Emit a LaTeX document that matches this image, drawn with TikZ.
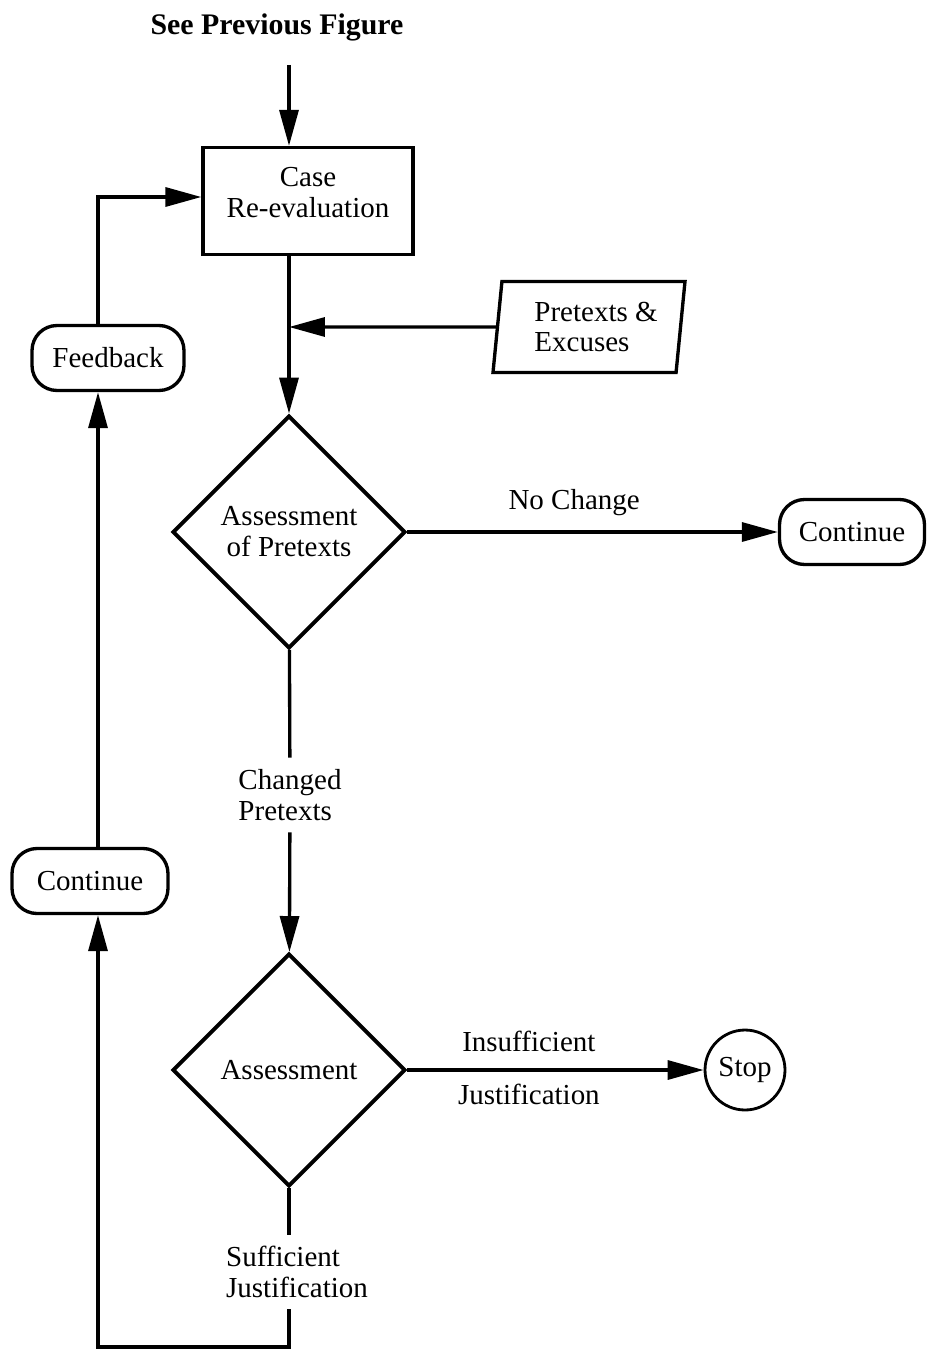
\documentclass[tikz,border=0pt]{standalone}
\usepackage{fontspec}
\setmainfont{Liberation Serif}
\usetikzlibrary{shapes.geometric,arrows.meta}
\begin{document}
\begin{tikzpicture}[x=0.02cm, y=-0.02cm, line width=1.9pt, font=\fontsize{16.5}{17.6}\selectfont,
 box/.style = {draw, rectangle, minimum width=4.2cm, minimum height=2.14cm, align=center},
 io/.style = {draw, trapezium, trapezium left angle=83, trapezium right angle=97, trapezium stretches=true, minimum width=3.88cm, minimum height=1.82cm, align=left},
 test/.style = {draw, diamond, aspect=1, minimum width=4.66cm, minimum height=4.66cm, inner sep=0pt, align=center, line width=2.2pt},
 term/.style = {draw, rounded corners=0.5cm, minimum height=1.3cm},
 stopc/.style = {draw, circle, minimum size=1.6cm, inner sep=0pt, line width=1.6pt},
 lbl/.style = {align=left, inner sep=0.2cm},
 arr/.style = {-{Triangle[length=0.72cm, width=0.38cm]}}]
\useasboundingbox (0,0) rectangle (944,1355);

\node[font=\bfseries\fontsize{17}{20}\selectfont] (prev) at (277,27) {See Previous Figure};
\node[box] (case) at (308,201) {Case\\Re-evaluation\\[-8pt]\mbox{}};
\node[io] (pretexts) at (589,327) {\hspace*{8pt}Pretexts \&\\\hspace*{8pt}Excuses};
\node[test] (assess) at (289,532) {Assessment\\of Pretexts};
\node[term, minimum width=2.9cm] (cont1) at (852,532) {Continue};
\node[lbl] (chg) at (290,795) {Changed\\Pretexts};
\node[test] (assess2) at (289,1070) {Assessment};
\node[stopc] (stop) at (745,1070) {Stop};
\node[lbl] (suf) at (297,1272) {Sufficient\\Justification};
\node[term, minimum width=3.12cm] (cont2) at (90,881) {Continue};
\node[term, minimum width=3.04cm] (fb) at (108,358) {Feedback};

\coordinate (in) at (289,65);
\coordinate (join) at (289,327);
\coordinate (tl) at (98,197);
\coordinate (bl) at (98,1347);

\draw[arr] (in) -- (in |- case.north);
\draw[arr] (case.south -| join) -- (assess);
\draw[arr] (pretexts.west) -- (join);
\draw[arr] (assess) -- node[above=5pt, pos=0.45] {No Change} (cont1);
\draw (assess) -- (chg);
\draw[arr] (chg) -- (assess2);
\draw[arr] (assess2) -- node[above=6pt, pos=0.41] {Insufficient} node[below=4pt, pos=0.41] {Justification} (stop);
\draw (assess2.south) -- (assess2.south |- suf.north);
\draw[arr] (assess2.south |- suf.south) |- (bl) -- (cont2.south -| bl);
\draw[arr] (cont2.north -| tl) -- (fb.south -| tl);
\draw[arr] (fb.north -| tl) -- (tl) -- (tl -| case.west);

\end{tikzpicture}
\end{document}
